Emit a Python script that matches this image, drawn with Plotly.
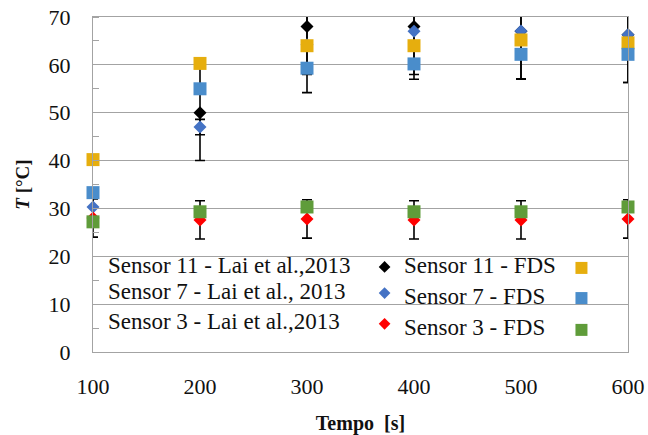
import plotly.graph_objects as go

# ---- data ----
time = [100, 200, 300, 400, 500, 600]

lai_s11 = [None, 50, 68, 68, 67, 66.3]
lai_s11_err = [0, 10, 10, 10, 10, 10]
lai_s7 = [30.3, 47, 64.2, 67, 67.1, 66.3]
lai_s7_err = [3, 1.6, 10, 10, 10, 10]
lai_s3 = [28, 27.6, 27.8, 27.6, 27.6, 27.8]
lai_s3_err = [4, 4, 4, 4, 4, 4]

fds_s11 = [40.2, 60.3, 64.0, 64.0, 65.2, 64.6]
fds_s7 = [33.3, 55.0, 59.3, 60.2, 62.2, 62.2]
fds_s3 = [27.2, 29.3, 30.3, 29.3, 29.3, 30.3]

lai_names = ["Sensor 11 - Lai et al.,2013", "Sensor 7 - Lai et al., 2013", "Sensor 3 - Lai et al.,2013"]
fds_names = ["Sensor 11 - FDS", "Sensor 7 - FDS", "Sensor 3 - FDS"]

lai_colors = ["#000000", "#4472C4", "#FF0000"]
fds_colors = ["#E6AE0E", "#4A8DCB", "#5F9C3A"]

x_ticks = [100, 200, 300, 400, 500, 600]
y_ticks = [0, 10, 20, 30, 40, 50, 60, 70]

SERIF = "Liberation Serif, Times New Roman, serif"

fig = go.Figure()

lai_series = [lai_s11, lai_s7, lai_s3]
lai_errs = [lai_s11_err, lai_s7_err, lai_s3_err]
fds_series = [fds_s11, fds_s7, fds_s3]

# error bars (clipped to plot area)
for ys, es in zip(lai_series, lai_errs):
    fig.add_trace(go.Scatter(
        x=time, y=ys, mode="markers",
        marker=dict(size=1, color="rgba(0,0,0,0)"),
        error_y=dict(type="data", array=es, visible=True, color="#000000",
                     thickness=1.6, width=5),
        showlegend=False, hoverinfo="skip", cliponaxis=True))

# Lai markers
for ys, c, n in zip(lai_series, lai_colors, lai_names):
    fig.add_trace(go.Scatter(
        x=time, y=ys, mode="markers", name=n,
        marker=dict(symbol="diamond", size=10, color=c),
        showlegend=False, cliponaxis=False))

# FDS markers
for ys, c, n in zip(fds_series, fds_colors, fds_names):
    fig.add_trace(go.Scatter(
        x=time, y=ys, mode="markers", name=n,
        marker=dict(symbol="square", size=13, color=c),
        showlegend=False, cliponaxis=False))

# ---- manual legend (text left, symbol right) ----
leg_rows_y_lai = [0.258, 0.182, 0.090]
leg_rows_y_fds = [0.258, 0.167, 0.072]
leg_sq_y = [0.251, 0.161, 0.066]
leg_dia_y = [0.254, 0.176, 0.084]
for i in range(3):
    fig.add_annotation(xref="paper", yref="paper", x=0.024, y=leg_rows_y_lai[i],
                       text=lai_names[i], showarrow=False, xanchor="left", yanchor="middle",
                       font=dict(family=SERIF, size=23, color="#111"))
    fig.add_annotation(xref="paper", yref="paper", x=0.577, y=leg_rows_y_fds[i],
                       text=fds_names[i], showarrow=False, xanchor="left", yanchor="middle",
                       font=dict(family=SERIF, size=23, color="#111"))
    fig.add_trace(go.Scatter(
        x=[0.545], y=[leg_dia_y[i]], xaxis="x2", yaxis="y2", mode="markers",
        marker=dict(symbol="diamond", size=9, color=lai_colors[i]),
        showlegend=False, hoverinfo="skip", cliponaxis=False))
    fig.add_trace(go.Scatter(
        x=[0.913], y=[leg_sq_y[i]], xaxis="x2", yaxis="y2", mode="markers",
        marker=dict(symbol="square", size=12, color=fds_colors[i]),
        showlegend=False, hoverinfo="skip", cliponaxis=False))

GRID = "#A3A3A3"
fig.update_layout(
    width=648, height=435,
    margin=dict(l=93, r=20, t=17, b=83, autoexpand=False),
    paper_bgcolor="white", plot_bgcolor="white",
    showlegend=False,
    xaxis=dict(range=[100, 600], tickvals=x_ticks, showgrid=False, zeroline=False,
               showline=True, linecolor=GRID, linewidth=1.3, mirror=True,
               ticks="", ticklabelstandoff=14, automargin=False,
               tickfont=dict(family=SERIF, size=22, color="#111"),
               title=dict(text="<b>Tempo  [s]</b>", standoff=22,
                          font=dict(family=SERIF, size=20, color="#111"))),
    yaxis=dict(range=[0, 70], tickvals=y_ticks, showgrid=True, gridcolor=GRID, gridwidth=1.3,
               zeroline=False, showline=True, linecolor=GRID, linewidth=1.3, mirror=True,
               ticks="", ticklabelstandoff=17, automargin=False,
               tickfont=dict(family=SERIF, size=22, color="#111"),
               minor=dict(dtick=5, ticks="inside", ticklen=6, tickcolor=GRID, showgrid=False),
               title=dict(text="<b><i>T</i> [°C]</b>", standoff=13,
                          font=dict(family=SERIF, size=19, color="#111"))),
    xaxis2=dict(overlaying="x", range=[0, 1], visible=False),
    yaxis2=dict(overlaying="y", range=[0, 1], visible=False),
)

fig.write_html("out.html")
